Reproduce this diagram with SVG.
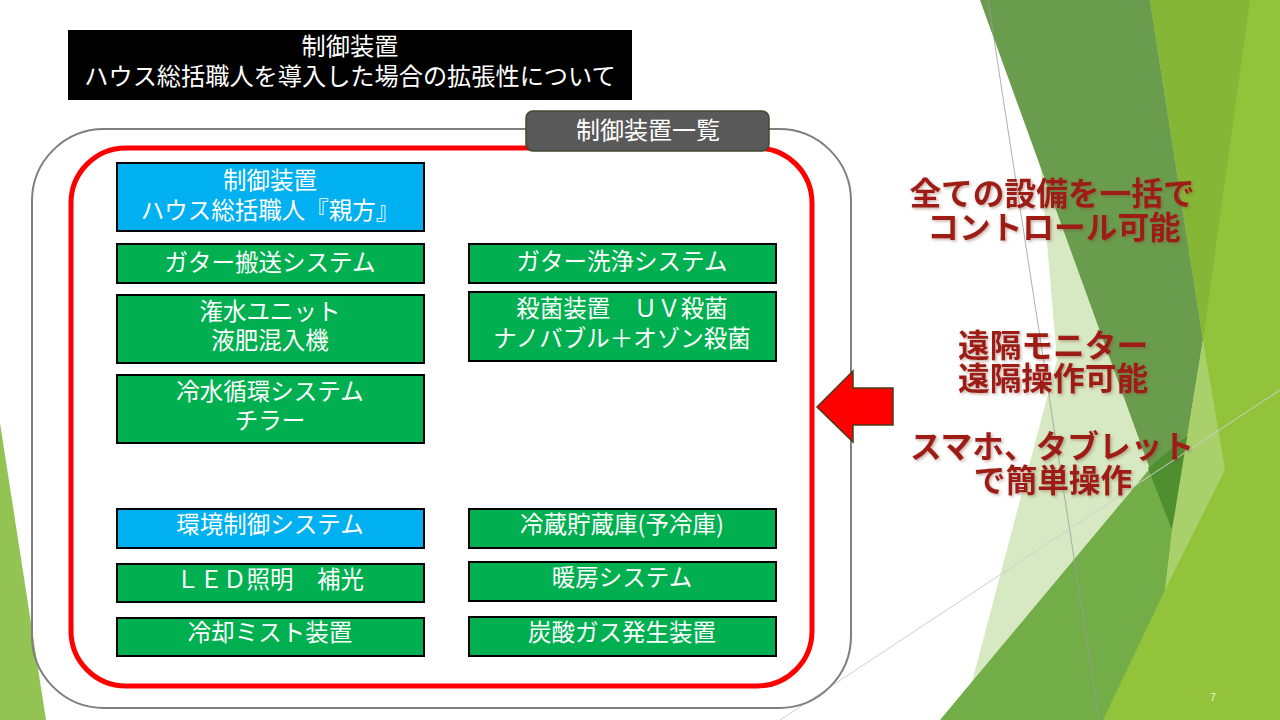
<svg xmlns="http://www.w3.org/2000/svg" width="1280" height="720" viewBox="0 0 1280 720">
<defs>
<style>
.jp{font-family:"Noto Sans CJK JP","Noto Sans",sans-serif;}
.box{stroke:#000;stroke-width:2;}
.g{fill:#00b050;}
.b{fill:#00b0f0;}
.bt{font-family:"Noto Sans CJK JP","Noto Sans",sans-serif;font-size:23.5px;fill:#ffffff;text-anchor:middle;}
.rt{font-family:"Noto Sans CJK JP","Noto Sans",sans-serif;font-size:31.7px;font-weight:bold;fill:#9e1f14;text-anchor:middle;filter:url(#sh);}
</style>
<filter id="sh" x="-10%" y="-30%" width="120%" height="160%">
<feDropShadow dx="1.5" dy="1.5" stdDeviation="1.5" flood-color="#7a4a3a" flood-opacity="0.45"/>
</filter>
</defs>
<rect width="1280" height="720" fill="#ffffff"/>
<g id="background">
<polygon points="1150,0 1280,0 1280,720 1100,720 1172,530 1203,340" fill="#93c33b"/>
<polygon points="1150,0 1250,0 1203,340" fill="#86b636"/>
<polygon points="1040,160 1203,340 1172,530 1000,720 962,720 1057,360" fill="#d7e9c2"/>
<polygon points="980,0 1150,0 1203,340 1172,530" fill="#6a9c4d"/>
<polygon points="940,720 1152,466 1172,530 1165,590 1103,720" fill="#72ad47"/>
<polygon points="1148,468 1192,432 1172,530" fill="#4f8f30"/>
<polygon points="1203,340 1225,470 1165,590 1172,530" fill="#a9d06a"/>
<polygon points="0,423 46,720 0,720" fill="#92c353"/>
<line x1="988" y1="0" x2="1099" y2="720" stroke="#9a9a9a" stroke-width="0.8"/>
<line x1="780" y1="720" x2="1280" y2="390" stroke="#cfcfcf" stroke-width="1"/>
<text x="1213" y="701" font-family="Liberation Sans, sans-serif" font-size="10" fill="#eef6dd" text-anchor="middle">7</text>
</g>
<g id="title">
<rect x="68" y="30" width="564" height="70" fill="#000000"/>
<text class="jp" x="350" y="55" font-size="24.2" fill="#ffffff" text-anchor="middle">制御装置<tspan x="350" y="85">ハウス総括職人を導入した場合の拡張性について</tspan></text>
</g>
<g id="frame">
<rect x="32" y="129" width="819" height="579" rx="72" ry="72" fill="none" stroke="#7f7f7f" stroke-width="2"/>
<rect x="71" y="148" width="741" height="538" rx="55" ry="55" fill="none" stroke="#ff0000" stroke-width="5"/>
</g>
<g id="tab">
<rect x="526" y="111" width="243" height="40" rx="7" ry="7" fill="#595959" stroke="#3e4a2c" stroke-width="1.5"/>
<text class="jp" x="648" y="139" font-size="24" fill="#ffffff" text-anchor="middle">制御装置一覧</text>
</g>
<g id="n1"><rect class="box b" x="117" y="163" width="307" height="68"/><text class="bt" x="270" y="188.5">制御装置<tspan x="270" y="218.5">ハウス総括職人『親方』</tspan></text></g>
<g id="n2"><rect class="box g" x="117" y="244" width="307" height="39"/><text class="bt" x="270" y="271">ガター搬送システム</text></g>
<g id="n3"><rect class="box g" x="117" y="295" width="307" height="68"/><text class="bt" x="270" y="319.5">潅水ユニット<tspan x="270" y="348.5">液肥混入機</tspan></text></g>
<g id="n4"><rect class="box g" x="117" y="375" width="307" height="68"/><text class="bt" x="270" y="399.5">冷水循環システム<tspan x="270" y="428.5">チラー</tspan></text></g>
<g id="n5"><rect class="box b" x="117" y="509" width="307" height="39"/><text class="bt" x="270" y="532.5">環境制御システム</text></g>
<g id="n6"><rect class="box g" x="117" y="564" width="307" height="38"/><text class="bt" x="270" y="587.5">ＬＥＤ照明　補光</text></g>
<g id="n7"><rect class="box g" x="117" y="618" width="307" height="38"/><text class="bt" x="270" y="640.5">冷却ミスト装置</text></g>
<g id="n8"><rect class="box g" x="469" y="244" width="307" height="39"/><text class="bt" x="622" y="269.5">ガター洗浄システム</text></g>
<g id="n9"><rect class="box g" x="469" y="292" width="307" height="69"/><text class="bt" x="622" y="316.5">殺菌装置　ＵＶ殺菌<tspan x="622" y="346.5">ナノバブル＋オゾン殺菌</tspan></text></g>
<g id="n10"><rect class="box g" x="469" y="509" width="307" height="39"/><text class="bt" x="622" y="532.5">冷蔵貯蔵庫(予冷庫)</text></g>
<g id="n11"><rect class="box g" x="469" y="562" width="307" height="39"/><text class="bt" x="622" y="585.5">暖房システム</text></g>
<g id="n12"><rect class="box g" x="469" y="617" width="307" height="39"/><text class="bt" x="622" y="640.5">炭酸ガス発生装置</text></g>
<g id="connectors">
<polygon points="817,407 853,371 853,388 893,388 893,425 853,425 853,442" fill="#ff0000" stroke="#4a3a1a" stroke-width="1.5" stroke-linejoin="miter"/>
</g>
<g id="notes">
<text class="rt" x="1052" y="205">全ての設備を一括で<tspan x="1054" y="239">コントロール可能</tspan></text>
<text class="rt" x="1053" y="357">遠隔モニター<tspan x="1053" y="390">遠隔操作可能</tspan></text>
<text class="rt" x="1052" y="458">スマホ、タブレット<tspan x="1053" y="492">で簡単操作</tspan></text>
</g>
</svg>
